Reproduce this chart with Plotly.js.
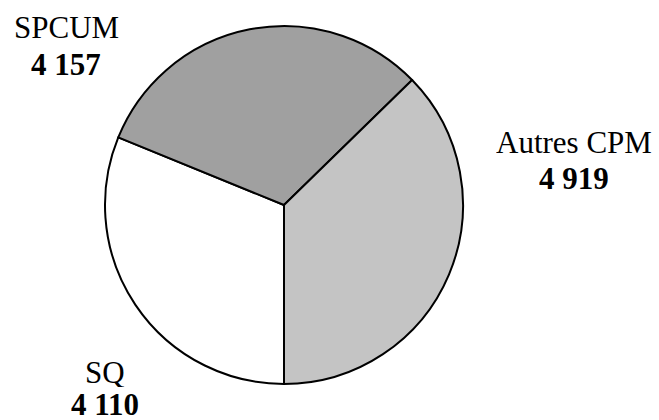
<!DOCTYPE html>
<html>
<head>
<meta charset="utf-8">
<script src="https://cdn.plot.ly/plotly-3.0.1.min.js"></script>
<style>html,body{margin:0;padding:0;background:#fff;}#chart{width:659px;height:420px;}</style>
</head>
<body>
<div id="chart"></div>
<script>
const categories = ['SQ', 'SPCUM', 'Autres CPM'];
const values = [4110, 4157, 4919];
const sliceColors = ['#ffffff', '#a0a0a0', '#c4c4c4'];

// label placement in pixels: [x center, y of name line, y of value line]
const labelPos = {
  'SQ':         [105, 372, 404],
  'SPCUM':      [66, 26.5, 63.5],
  'Autres CPM': [574, 141.5, 177.5]
};

const W = 659, H = 420;
function fmt(v) { return String(v).replace(/\B(?=(\d{3})+(?!\d))/g, ' '); }

const annotations = [];
categories.forEach((c, i) => {
  const p = labelPos[c];
  annotations.push({
    text: c, xref: 'paper', yref: 'paper', x: p[0] / W, y: 1 - p[1] / H,
    xanchor: 'center', yanchor: 'middle', valign: 'middle', height: 30, showarrow: false,
    font: {family: 'Liberation Serif', size: 31, color: '#000'}
  });
  annotations.push({
    text: '<b>' + fmt(values[i]) + '</b>', xref: 'paper', yref: 'paper', x: p[0] / W, y: 1 - p[2] / H,
    xanchor: 'center', yanchor: 'middle', valign: 'middle', height: 30, showarrow: false,
    font: {family: 'Liberation Serif', size: 31, color: '#000'}
  });
});

const cx = 284, cy = 205, r = 179;
const trace = {
  type: 'pie',
  labels: categories,
  values: values,
  sort: false,
  direction: 'clockwise',
  rotation: 180,
  textinfo: 'none',
  hoverinfo: 'skip',
  marker: {colors: sliceColors, line: {color: '#000', width: 2}},
  domain: {x: [(cx - r) / W, (cx + r) / W], y: [1 - (cy + r) / H, 1 - (cy - r) / H]},
  showlegend: false
};

const layout = {
  width: W, height: H,
  margin: {l: 0, r: 0, t: 0, b: 0, pad: 0},
  paper_bgcolor: '#fff',
  font: {family: 'Liberation Serif', color: '#000'},
  annotations: annotations,
  showlegend: false
};

Plotly.newPlot('chart', [trace], layout, {displayModeBar: false, staticPlot: true});
</script>
</body>
</html>
